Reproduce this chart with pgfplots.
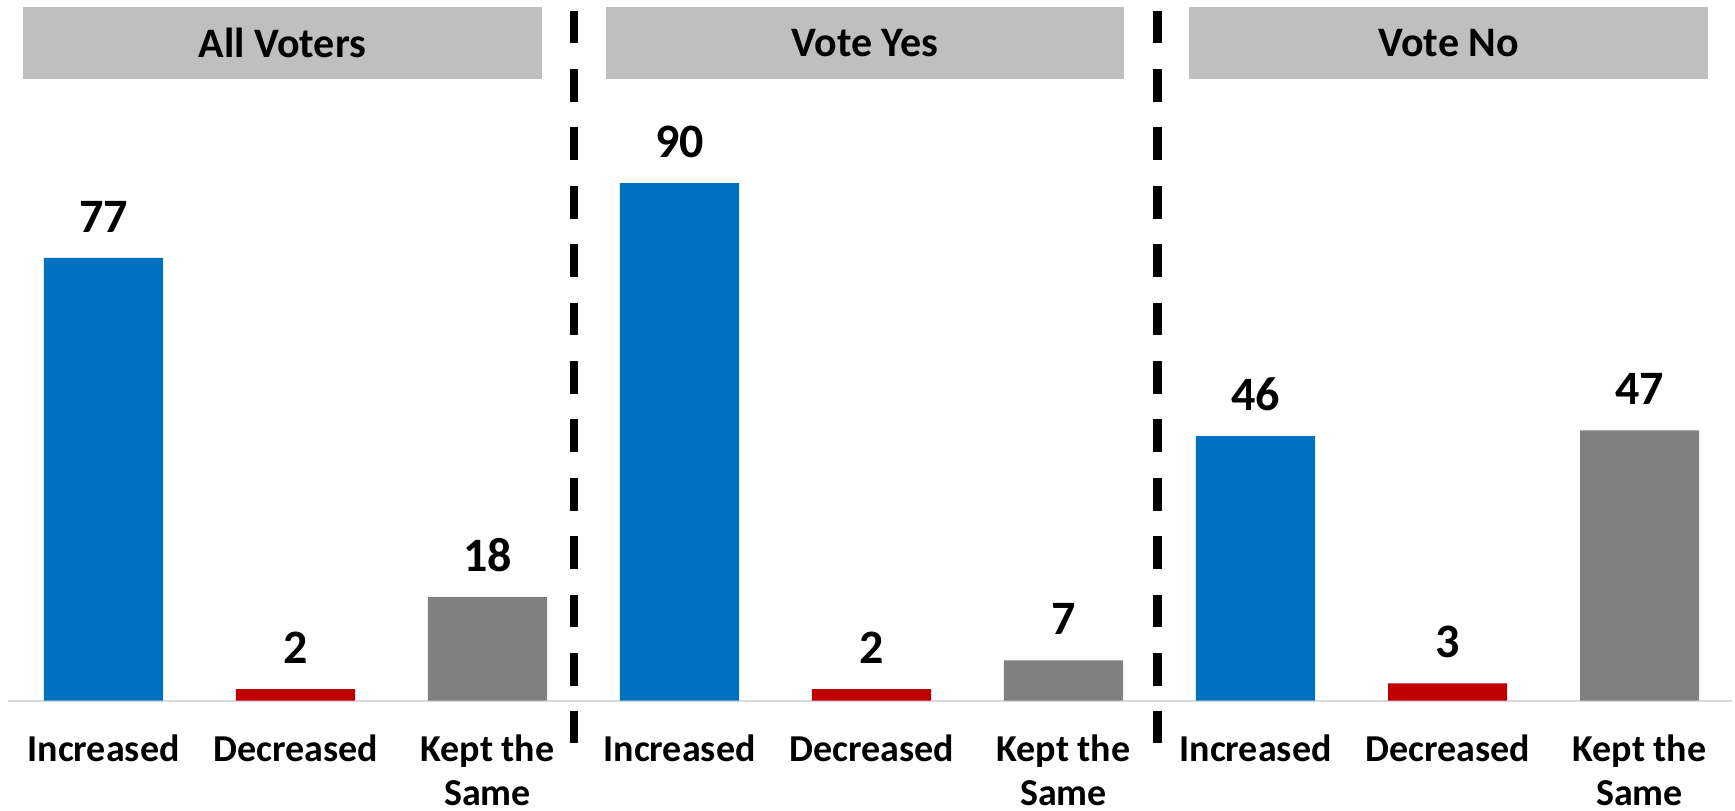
\documentclass[border=0pt]{standalone}
\usepackage{pgfplots}
\pgfplotsset{compat=1.18}
\usepackage{fontspec}
\setmainfont{Carlito}
\definecolor{cblue}{HTML}{0070C0}
\definecolor{cred}{HTML}{C00000}
\definecolor{cgray}{HTML}{808080}
\definecolor{hgray}{HTML}{BFBFBF}
\definecolor{lgray}{HTML}{D9D9D9}
\begin{document}
\begin{tikzpicture}
\begin{axis}[
  scale only axis,
  width=862.1pt, height=347.9pt,
  xmin=-0.5, xmax=8.48, ymin=0, ymax=121,
  clip=false,
  axis x line*=bottom, axis y line=none,
  axis line style={draw=lgray, line width=1pt},
  xtick={0,...,8},
  xticklabels={Increased,Decreased,{Kept the\\Same},Increased,Decreased,{Kept the\\Same},Increased,Decreased,{Kept the\\Same}},
  xtick style={draw=none},
  xticklabel style={font=\bfseries\fontsize{19}{21.6}\selectfont, align=center, anchor=north, inner sep=0pt, text depth=0pt, yshift=-12.8pt},
  ytick=\empty,
  /pgf/number format/assume math mode=true,
  ybar, bar width=0.62, bar shift=0pt,
  nodes near coords,
  nodes near coords style={font=\bfseries\fontsize{24}{28}\selectfont, anchor=south, inner sep=0pt, yshift=12.6pt, text=black},
]
\addplot[fill=cblue, draw=none] coordinates {(0,77) (3,90) (6,46)};
\addplot[fill=cred, draw=none] coordinates {(1,2) (4,2) (7,3)};
\addplot[fill=cgray, draw=none] coordinates {(2,18) (5,7) (8,47)};
% panel headers
\fill[hgray] (axis cs:-0.42,108.2) rectangle (axis cs:2.284,120.6);
\fill[hgray] (axis cs:2.617,108.2) rectangle (axis cs:5.316,120.6);
\fill[hgray] (axis cs:5.656,108.2) rectangle (axis cs:8.356,120.6);
\node[font=\bfseries\fontsize{21}{25}\selectfont] at (axis cs:0.932,114.4) {All Voters};
\node[font=\bfseries\fontsize{21}{25}\selectfont] at (axis cs:3.9665,114.4) {Vote Yes};
\node[font=\bfseries\fontsize{21}{25}\selectfont] at (axis cs:7.006,114.4) {Vote No};
% dividers
\draw[black, line width=4.35pt, dash pattern=on 16.35pt off 12.85pt] (axis cs:2.45,120) -- (axis cs:2.45,-7.4);
\draw[black, line width=4.35pt, dash pattern=on 16.35pt off 12.85pt] (axis cs:5.49,120) -- (axis cs:5.49,-7.4);
% bounding box
\path (axis cs:-0.5391,-19.01) rectangle (axis cs:8.4974,121.86);
\end{axis}
\end{tikzpicture}
\end{document}
